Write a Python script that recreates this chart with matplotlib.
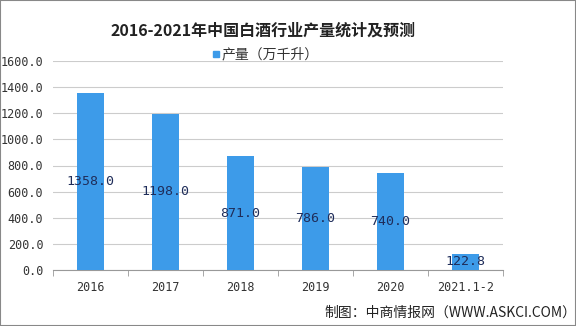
import matplotlib.pyplot as plt
import numpy as np
from matplotlib.patches import Rectangle

plt.rcParams['font.family'] = ['Noto Sans CJK SC', 'DejaVu Sans']

categories = ['2016', '2017', '2018', '2019', '2020', '2021.1-2']
output = [1358.0, 1198.0, 871.0, 786.0, 740.0, 122.8]
yticks = np.arange(0, 1601, 200)

BAR = '#3d9be9'
MONO = 'DejaVu Sans Mono'
W, H = 576, 326

fig = plt.figure(figsize=(W / 100, H / 100), dpi=100)
ax = fig.add_axes([53 / W, 1 - 270 / H, 450 / W, 209 / H])

x = np.arange(len(categories))
ax.bar(x, output, width=0.36, color=BAR, zorder=3)
for xi, v in zip(x, output):
    ax.text(xi, v / 2, f'{v:.1f}', ha='center', va='center', fontsize=9.5,
            family=MONO, color='#1f2d5a', zorder=4)

ax.set_xlim(-0.5, len(categories) - 0.5)
ax.set_ylim(0, 1600)
ax.set_yticks(yticks)
ax.set_yticklabels([f'{t:.1f}' for t in yticks], fontsize=8.5, family=MONO, color='#333333')
ax.set_xticks(x)
ax.set_xticklabels(categories, fontsize=8.5, family=MONO, color='#333333')
ax.tick_params(axis='y', length=0, pad=7)
ax.tick_params(axis='x', length=0, pad=8)
ax.set_xticks(np.arange(-0.5, len(categories)), minor=True)
ax.tick_params(axis='x', which='minor', length=4, color='#999999', direction='out')
ax.grid(axis='y', color='#cccccc', linewidth=0.8, zorder=0)
for s in ['top', 'right', 'left']:
    ax.spines[s].set_visible(False)
ax.spines['bottom'].set_color('#999999')

fig.text(0.456, 1 - 31 / H, '2016-2021年中国白酒行业产量统计及预测', ha='center', va='center',
         fontsize=11.5, fontweight='bold', color='#222222')
fig.patches.append(Rectangle((213 / W, 1 - 57 / H), 6 / W, 6 / H, transform=fig.transFigure,
                             color=BAR))
fig.text(222 / W, 1 - 54 / H, '产量（万千升）', ha='left', va='center', fontsize=10, color='#333333')
fig.text(576 / W, 1 - 313 / H, '制图：中商情报网（WWW.ASKCI.COM）', ha='right', va='center',
         fontsize=10, color='#222222')

fig.patches.append(Rectangle((0, 0), 1, 1, transform=fig.transFigure, fill=False,
                             edgecolor='#888888', linewidth=1.5))

fig.savefig('out.png', dpi=100)
